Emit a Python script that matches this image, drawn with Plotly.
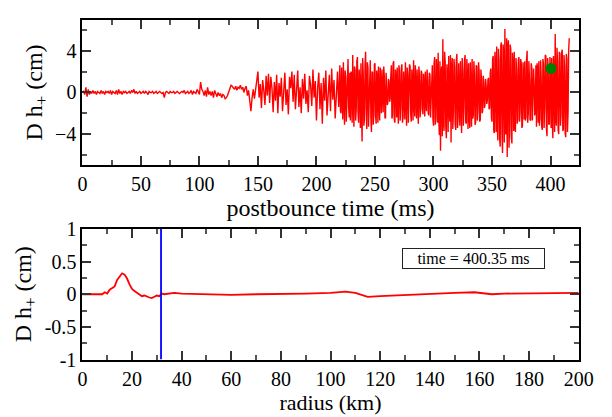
import plotly.graph_objects as go

# ---- top panel: strain signal vs postbounce time ----
# values read at whole milliseconds, 0..416 ms
h_plus = [
    0.0, 0.1, -0.2, 0.5, -0.4, 0.3, -0.2, 0.1, -0.1, 0.2,
    -0.1, 0.1, -0.2, 0.1, 0.0, -0.1, 0.2, -0.1, 0.1, -0.2,
    0.1, 0.0, 0.1, -0.1, 0.2, -0.2, 0.1, 0.0, -0.1, 0.2,
    -0.2, 0.3, -0.1, 0.1, -0.2, 0.1, 0.0, 0.1, -0.1, 0.0,
    0.1, -0.1, 0.2, 0.0, 0.3, -0.1, 0.1, -0.1, 0.0, 0.1,
    -0.1, 0.0, 0.1, -0.1, 0.1, 0.0, -0.2, 0.1, 0.0, 0.0,
    0.1, -0.1, 0.0, 0.1, -0.1, 0.0, 0.1, 0.0, -0.1, 0.0,
    -0.5, 0.0, 0.1, 0.0, -0.1, 0.1, 0.0, 0.0, 0.1, -0.1,
    0.0, 0.1, 0.0, -0.1, 0.0, 0.1, 0.0, 0.2, -0.1, 0.0,
    0.1, -0.1, 0.0, 0.2, -0.2, 0.1, 0.0, -0.1, 0.3, 0.0,
    -0.2, 1.0, 0.3, 0.1, -0.3, 0.2, -0.4, 0.5, -0.2, 0.1,
    -0.3, 0.1, -0.5, 0.2, -0.2, -0.4, 0.0, -0.3, -0.1, -0.5,
    -0.2, -0.3, -0.6, -0.5, -0.3, 0.0, 0.5, 0.7, 0.6, 0.4,
    0.3, 0.6, 0.2, 0.5, 0.4, 0.7, 0.3, 0.5, 0.0, 0.4,
    0.6, -0.3, 0.2, -0.8, -1.8, -0.5, 0.3, -0.6, 0.5, 1.2,
    2.0, -0.5, 0.8, -1.5, 1.2, 0.2, -1.2, 1.6, -0.3, 1.8,
    -1.0, 1.5, 0.4, -1.9, 1.0, -0.8, 1.7, -2.0, 0.9, -0.4,
    1.4, -1.8, 0.6, 1.9, -1.2, 0.3, -2.1, 1.5, 0.4, 2.0,
    -0.9, 1.7, -1.6, 0.8, 2.1, -1.4, 0.5, -2.0, 1.3, -0.6,
    1.8, -1.1, 0.2, -1.9, 1.6, 0.7, -1.3, 2.2, -0.5, 1.1,
    -2.7, 0.4, 1.9, -1.6, 0.9, -3.0, 1.4, -0.8, 2.1, -2.2,
    0.6, 1.7, -1.8, 2.3, -0.7, 1.2, -2.5, 0.3, 2.0, -1.4,
    2.6, -2.0, 0.8, 2.9, -3.1, 1.5, -1.0, 3.2, -2.4, -2.7,
    1.8, 3.6, -3.3, 2.2, -1.6, 3.4, -2.9, 0.9, 2.8, -4.7,
    1.6, -2.6, 3.9, -3.5, 2.4, -1.2, 3.1, -3.8, 1.9, -2.2,
    2.8, -3.0, 1.4, 2.5, -2.7, 0.8, 2.2, -1.9, 1.5, -2.5,
    0.9, -1.0, 1.1, -0.6, 2.6, -2.2, 3.0, -2.9, 1.3, 2.4,
    -3.0, 1.9, -1.5, 2.7, -2.4, 0.6, 2.9, -3.2, 1.8, -1.1,
    2.5, -2.8, 1.0, 3.1, -2.3, 0.4, 2.2, -3.0, 1.6, -1.7,
    1.9, -2.1, 0.7, 2.0, -1.8, 1.2, -2.2, 1.7, -0.9, 2.6,
    -3.2, 3.4, -2.6, 1.8, 3.8, -4.1, -5.6, 2.5, 5.1, -3.7,
    2.9, -4.4, 1.6, 3.5, -2.8, -4.8, 3.3, -1.9, 2.4, -3.6,
    3.7, -2.5, 0.9, 3.0, -3.9, 2.1, -1.4, 3.6, -3.0, 1.2,
    2.8, -3.4, 0.5, 3.2, -2.2, 1.7, -2.9, 2.5, -1.6, 2.0,
    -2.6, 1.3, -1.8, 0.9, -1.2, 0.6, -0.8, 1.4, -1.5, 2.3,
    -2.8, 3.5, -3.9, 2.7, 4.4, -4.6, 3.1, -5.2, 4.8, -5.8,
    3.6, 6.1, -4.0, -6.2, 5.0, -3.5, 4.2, -4.9, 2.6, 3.9,
    -3.8, 2.2, -2.6, 3.4, -1.9, 2.8, -3.2, 1.5, 3.0, -2.4,
    4.0, -2.0, 1.3, -2.7, 2.4, -1.1, 0.8, -1.7, -3.3, 2.1,
    3.0, -2.5, 1.6, -3.6, 2.7, -1.4, 3.5, -4.2, 2.2, -3.0,
    2.0, 3.3, -4.4, 1.8, 5.6, -3.2, 2.9, -4.0, 3.7, -2.1,
    4.1, -3.5, 2.5, -4.3, 3.2, -1.8, 5.2,
]
# additional values read at half milliseconds, 220.5..415.5 ms
h_plus_half = [
    -1.8, 2.4, -2.6, -0.4, 2.1, -2.8, 2.7, -1.5, 1.9, 2.0,
    -2.9, -0.8, 2.5, -2.7, 3.0, -1.9, 2.2, -3.4, -2.1, 3.3,
    -3.2, 2.6, -1.4, 2.9, -3.3, 2.6, -2.4, 2.0, -3.1, 2.7,
    -2.2, 2.1, -2.9, -0.4, 2.4, -2.0, -1.6, 2.5, -2.4, 1.9,
    -1.2, 1.3, -0.9, 1.5, -2.5, 2.8, -2.6, 2.2, -2.4, -1.5,
    2.6, -2.7, 2.3, -2.9, 2.0, -2.6, -1.4, 2.4, -2.9, 2.7,
    -2.0, 2.2, -2.7, -1.0, 2.6, -2.5, -1.2, 2.5, -2.4, 2.1,
    -1.5, 1.8, -2.3, -0.8, 2.2, -2.0, 1.9, -2.4, 2.3, -2.5,
    2.8, -3.1, 3.2, -2.9, -2.4, 3.0, 1.9, -4.2, -2.8, 3.9,
    -3.3, 2.7, -3.8, -1.7, 3.6, 2.2, -3.5, 3.2, -3.0, 3.1,
    -3.4, 2.8, -3.2, -1.9, 3.3, -3.2, 3.1, -2.8, 3.2, -3.5,
    -2.1, 2.9, -3.3, -2.5, 3.0, -3.1, 2.6, -2.7, 2.9, -2.8,
    2.2, -2.0, 1.6, -1.5, 1.3, -1.1, 1.2, -1.6, 1.9, -2.5,
    3.2, -3.7, 3.9, -3.8, -2.9, 4.2, -4.4, 4.5, -3.9, 4.6,
    -4.8, -3.9, 5.2, 4.4, -5.3, 4.6, -4.3, 3.8, -3.7, -3.2,
    3.3, -3.0, 3.1, -2.8, 3.2, -3.4, 2.9, -2.6, -2.7, 3.1,
    -2.9, 3.0, -2.6, 2.8, -2.7, 2.3, -2.2, 2.6, 2.8, -2.9,
    -3.2, 3.1, -3.3, 3.2, -3.4, 3.6, -3.5, 3.3, -3.1, 3.4,
    -3.4, -2.9, 3.5, -3.8, -2.6, 4.3, -3.6, 3.9, -3.2, 3.8,
    -3.7, 3.6, -3.9, 3.7, -3.8, 4.0,
]
half_start_ms = 220.5

marker_time = [400.35]
marker_h = [2.3]

# ---- bottom panel: strain profile vs radius ----
radius_km = [0, 8, 9, 10, 11, 12, 13, 14, 15, 16, 17, 18, 19, 20, 21, 22, 23, 24,
             25, 26, 27, 28, 29, 30, 31, 32, 33, 35, 37, 40, 50, 60, 70, 80, 90,
             100, 106, 110, 115, 120, 125, 130, 135, 140, 150, 158, 165, 170,
             180, 190, 200]
h_profile = [0.0, 0.0, 0.03, 0.01, 0.07, 0.1, 0.12, 0.22, 0.27, 0.32, 0.3, 0.24,
             0.15, 0.08, 0.05, 0.02, -0.01, -0.03, -0.02, -0.04, -0.05, -0.06,
             -0.04, -0.02, -0.03, 0.01, 0.0, 0.01, 0.02, 0.01, 0.0, -0.01, 0.0,
             0.0, 0.01, 0.02, 0.04, 0.02, -0.04, -0.03, -0.02, -0.02, -0.01,
             0.0, 0.02, 0.03, 0.0, 0.01, 0.01, 0.02, 0.02]

shock_radius = [31.7]
time_label = "time = 400.35 ms"

# merge the whole-ms and half-ms readings into one time-ordered series
pairs = [(float(i), v) for i, v in enumerate(h_plus)]
pairs += [(half_start_ms + i, v) for i, v in enumerate(h_plus_half)]
pairs.sort()
time_ms = [p[0] for p in pairs]
h_series = [p[1] for p in pairs]

FONT = "Liberation Serif, Times New Roman, serif"
W, H = 612, 417

fig = go.Figure()
fig.add_trace(go.Scatter(x=time_ms, y=h_series, mode="lines",
                         line=dict(color="#ff0000", width=1.4),
                         xaxis="x", yaxis="y", showlegend=False))
fig.add_trace(go.Scatter(x=marker_time, y=marker_h, mode="markers",
                         marker=dict(color="#008000", size=11),
                         xaxis="x", yaxis="y", showlegend=False))
fig.add_trace(go.Scatter(x=radius_km, y=h_profile, mode="lines",
                         line=dict(color="#ff0000", width=1.8),
                         xaxis="x2", yaxis="y2", showlegend=False))
fig.add_trace(go.Scatter(x=shock_radius * 2, y=[-1, 1], mode="lines",
                         line=dict(color="#0000ff", width=1.8),
                         xaxis="x2", yaxis="y2", showlegend=False))

axis_common = dict(showline=True, linecolor="black", linewidth=2, mirror="ticks",
                   ticks="inside", ticklen=9, tickwidth=1.5, tickcolor="#333",
                   showgrid=False, zeroline=False,
                   tickfont=dict(family=FONT, size=20, color="black"))

fig.update_layout(
    width=W, height=H,
    margin=dict(l=0, r=0, t=0, b=0),
    paper_bgcolor="white", plot_bgcolor="white",
    font=dict(family=FONT, color="black"),
    xaxis=dict(domain=[80 / W, 593 / W], range=[0, 424], dtick=50, tick0=0,
               anchor="y",
               minor=dict(ticks="inside", ticklen=5, dtick=25, tickcolor="#555", tickwidth=1.5),
               title=dict(text="postbounce time (ms)", font=dict(family=FONT, size=24, color="black"),
                          standoff=4),
               **axis_common),
    yaxis=dict(domain=[(H - 163) / H, (H - 9) / H], range=[-7, 7], tickvals=[-4, 0, 4],
               anchor="x",
               minor=dict(ticks="inside", ticklen=5, dtick=2, tick0=0, tickcolor="#555", tickwidth=1.5),
               title=dict(text="D h<sub>+</sub> (cm)", font=dict(family=FONT, size=24, color="black"),
                          standoff=6),
               **axis_common),
    xaxis2=dict(domain=[80 / W, 593 / W], range=[0, 200], dtick=20, tick0=0,
                anchor="y2",
                minor=dict(ticks="inside", ticklen=5, dtick=10, tickcolor="#555", tickwidth=1.5),
                title=dict(text="radius (km)", font=dict(family=FONT, size=22, color="black"),
                           standoff=2),
                **axis_common),
    yaxis2=dict(domain=[(H - 368) / H, (H - 230) / H], range=[-1, 1],
                tickvals=[-1, -0.5, 0, 0.5, 1], ticktext=["-1", "-0.5", "0", "0.5", "1"],
                anchor="x2",
                minor=dict(ticks="inside", ticklen=5, dtick=0.25, tick0=0, tickcolor="#555", tickwidth=1.5),
                title=dict(text="D h<sub>+</sub> (cm)", font=dict(family=FONT, size=24, color="black"),
                           standoff=6),
                **axis_common),
    annotations=[dict(text=time_label, xref="paper", yref="paper",
                      x=484.5 / W, y=(H - 261) / H, xanchor="center", yanchor="middle",
                      showarrow=False, font=dict(family=FONT, size=16, color="black"),
                      bordercolor="#222", borderwidth=1, borderpad=1,
                      width=139, height=17, bgcolor="white")],
)

fig.write_html("out.html")
